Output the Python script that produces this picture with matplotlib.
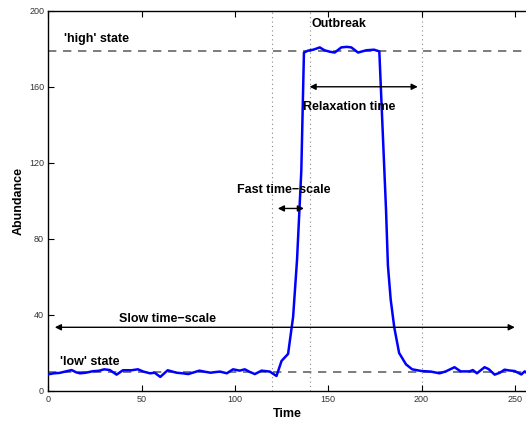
import matplotlib
matplotlib.use("Agg")
import matplotlib.pyplot as plt

plt.rcParams['font.family'] = ['Liberation Sans', 'DejaVu Sans']

# time series
time = [0, 3, 6, 9, 12.5, 15, 17, 20, 24, 27, 30, 33, 36.6, 40, 44.6, 48, 51,
        54.5, 57, 60, 64, 68.7, 72, 75, 78, 81, 84, 87, 90, 92, 95.7, 99, 102.6,
        105.3, 108, 110.7, 114.3, 118.7, 122.3, 125, 128.5, 131.2, 133.3, 135.6,
        137, 139.2, 142, 145.5, 148, 151, 153.5, 157, 160, 162.4, 166, 170.4,
        174.6, 177.4, 181, 182, 183.5, 185.4, 188, 191.7, 195, 200, 205, 209.7,
        213, 217.7, 221, 225.7, 227.5, 229.7, 233.8, 236, 239.2, 242, 244.5, 247,
        249.9, 253.5, 255.3, 256]
abundance = [8.8, 9.3, 9.5, 10.2, 11, 9.8, 9.3, 9.6, 10.4, 10.6, 11.4, 11, 8.6,
             10.9, 10.9, 11.4, 10.2, 9.3, 9.6, 7.4, 10.9, 9.6, 9.3, 8.9, 9.8, 10.7,
             10.1, 9.6, 10, 10.2, 9.3, 11.4, 10.7, 11.4, 10, 8.9, 10.7, 10.2, 7.9,
             15.8, 19.5, 39, 69, 116, 178, 179, 179.5, 180.7, 179.2, 178.4, 178,
             180.7, 181, 180.7, 178, 179.2, 179.5, 178.6, 95, 66, 48, 33.5, 20, 14,
             11.4, 10.5, 10.2, 9.3, 10.3, 12.5, 10.3, 10.3, 11, 9.3, 12.5, 11.5, 8.6,
             9.6, 11.2, 10.8, 10.5, 8.7, 10.3, 9.8]

high_state = 179
low_state = 10
markers_x = [120, 140, 200]

fig = plt.figure(figsize=(5.26, 4.22), dpi=100)
ax = fig.add_axes([0.0918, 0.0735, 0.9082, 0.9011])

for xv in markers_x:
    ax.axvline(xv, color='#888888', linestyle=(0, (1, 3)), linewidth=0.8, zorder=1)
ax.axhline(high_state, color='#666666', linestyle=(0, (5, 4)), linewidth=1.2, zorder=1)
ax.axhline(low_state, color='#666666', linestyle=(0, (5, 4)), linewidth=1.2, zorder=1)

ax.plot(time, abundance, color='#0000ff', linewidth=1.8, zorder=3)

arr = dict(arrowstyle='<|-|>', color='black', lw=1.0, mutation_scale=9,
           shrinkA=0, shrinkB=0)
ax.annotate('', xy=(3.5, 33.5), xytext=(250, 33.5), arrowprops=arr, zorder=4)
ax.annotate('', xy=(140, 160), xytext=(198, 160), arrowprops=arr, zorder=4)
ax.annotate('', xy=(123, 96), xytext=(137, 96), arrowprops=arr, zorder=4)

tkw = dict(fontsize=9, fontweight='bold', va='center', ha='left')
ax.text(8.4, 185.3, "'high' state", **tkw)
ax.text(140.8, 193, "Outbreak", **tkw)
ax.text(136.7, 149.6, "Relaxation time", **tkw)
ax.text(100.9, 105.8, "Fast time\u2212scale", **tkw)
ax.text(38, 38, "Slow time\u2212scale", **tkw)
ax.text(6.3, 15.3, "'low' state", **tkw)

ax.set_xlim(0, 256)
ax.set_ylim(0, 200)
ax.set_xticks([0, 50, 100, 150, 200, 250])
ax.set_yticks([0, 40, 80, 120, 160, 200])
ax.tick_params(direction='in', labelsize=6.5, length=4, top=True, right=False, pad=3,
               labelcolor='#333333')
ax.spines['right'].set_visible(False)
for s in ['left', 'bottom', 'top']:
    ax.spines[s].set_linewidth(1.0)
ax.set_xlabel('Time', fontsize=9, fontweight='bold', labelpad=3)
ax.set_ylabel('Abundance', fontsize=9, fontweight='bold', labelpad=3)

fig.savefig('out.png', dpi=100)
